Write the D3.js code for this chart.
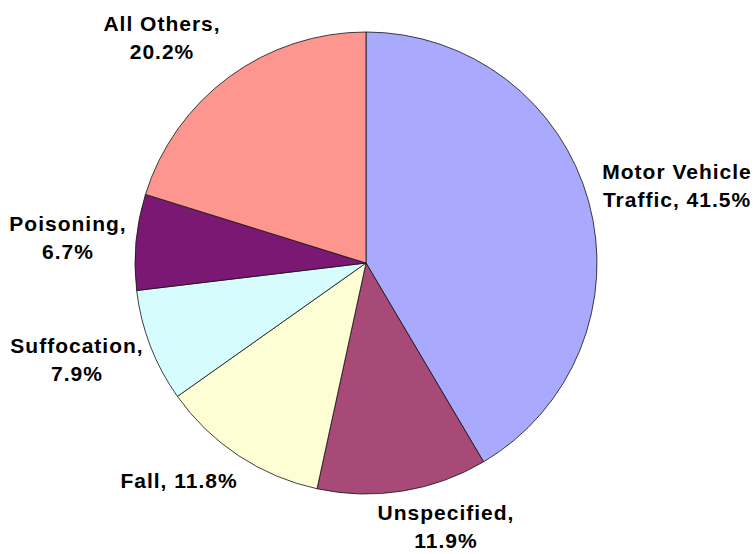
<!DOCTYPE html>
<html>
<head>
<meta charset="utf-8">
<script src="https://cdn.jsdelivr.net/npm/d3@7"></script>
<style>
  body { margin: 0; background: #fff; }
  .label { font-family: "Liberation Sans", Arial, sans-serif; font-weight: bold; font-size: 21px; letter-spacing: 1px; fill: #000; }
</style>
</head>
<body>
<div id="chart"></div>
<script>
// Data
var categories = ["Motor Vehicle Traffic", "Unspecified", "Fall", "Suffocation", "Poisoning", "All Others"]
var values = [41.5, 11.9, 11.8, 7.9, 6.7, 20.2]
var colors = ["#a9a9fe", "#a84a78", "#fefed4", "#d6fcfe", "#7b1874", "#fe9690"]
// how many words go on the first label line (0 = one line)
var wrapAfter = [2, 1, 0, 1, 1, 2]

// Layout
var width = 756, height = 554
var cx = 366, cy = 263, radius = 231
var lineHeight = 28
// first-baseline position of each label
var labelPos = [[677, 179], [446, 520], [179, 488], [77, 353], [68, 231], [162, 31]]

var svg = d3.select("#chart")
  .append("svg")
  .attr("width", width)
  .attr("height", height)

var g = svg.append("g")
  .attr("transform", "translate(" + cx + "," + cy + ")")

var pie = d3.pie()
  .sort(null)
  .value(function(d) { return d })

var arc = d3.arc()
  .innerRadius(0)
  .outerRadius(radius)

var slices = pie(values)

// Slices
g.selectAll("path.slice")
  .data(slices)
  .enter()
  .append("path")
  .attr("class", "slice")
  .attr("d", arc)
  .attr("fill", function(d, i) { return colors[i] })
  .attr("stroke", "#111")
  .attr("stroke-width", 0.8)
  .attr("stroke-linejoin", "round")

// Labels
function labelLines(i) {
  var words = (categories[i] + ", " + values[i].toFixed(1) + "%").split(" ")
  if (!wrapAfter[i]) return [words.join(" ")]
  return [words.slice(0, wrapAfter[i]).join(" "), words.slice(wrapAfter[i]).join(" ")]
}

var labels = svg.selectAll("text.label")
  .data(categories)
  .enter()
  .append("text")
  .attr("class", "label")
  .attr("text-anchor", "middle")
  .attr("x", function(d, i) { return labelPos[i][0] })
  .attr("y", function(d, i) { return labelPos[i][1] })

labels.each(function(d, i) {
  var t = d3.select(this)
  labelLines(i).forEach(function(line, j) {
    t.append("tspan")
      .attr("x", labelPos[i][0])
      .attr("y", labelPos[i][1] + j * lineHeight)
      .text(line)
  })
})
</script>
</body>
</html>
